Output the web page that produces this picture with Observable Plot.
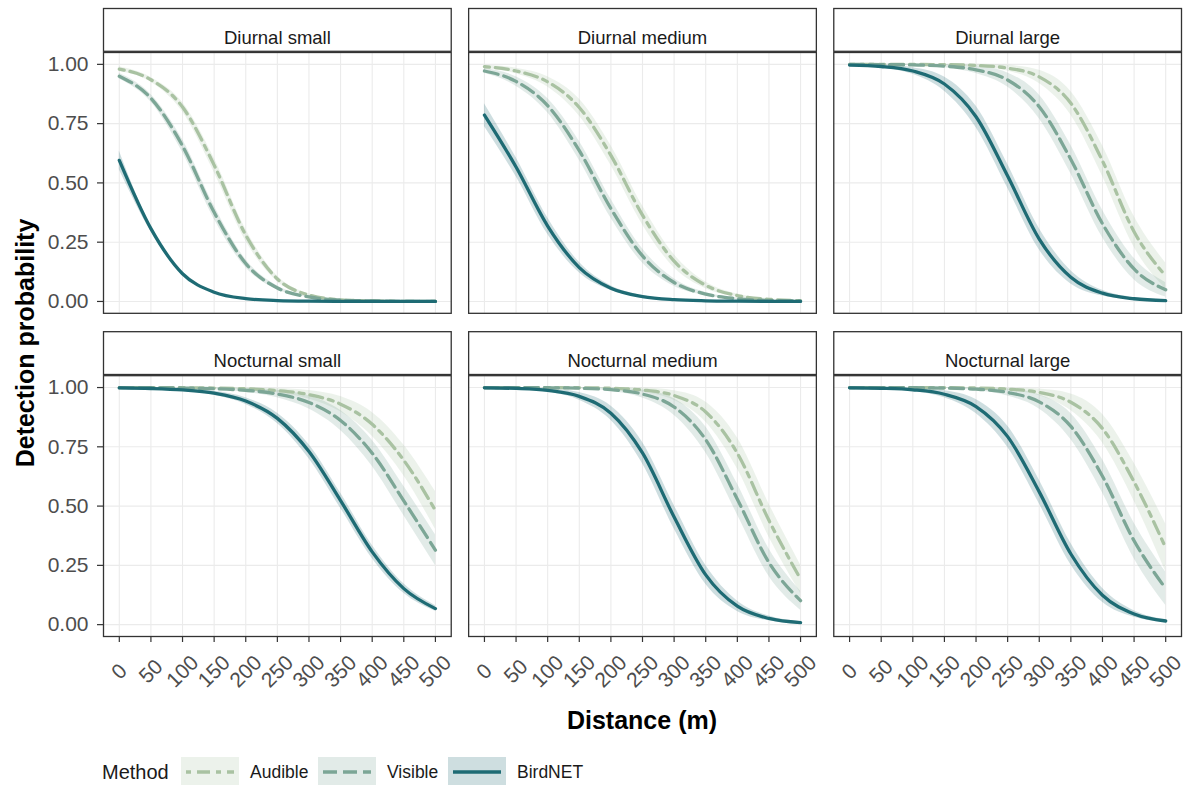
<!DOCTYPE html>
<html><head><meta charset="utf-8">
<script src="https://cdn.jsdelivr.net/npm/d3@7"></script>
<script src="https://cdn.jsdelivr.net/npm/@observablehq/plot@0.6"></script>
<style>
html,body{margin:0;padding:0;background:#fff;overflow:hidden;}
#wrap{position:relative;width:1190px;height:785px;font-family:"Liberation Sans",Arial,sans-serif;}
#legend{position:absolute;left:0;top:745px;}
</style></head><body><div id="wrap"><div id="chart"></div><svg id="legend" width="1190" height="40"></svg></div>
<script>
// ---- categories & ticks ----
const times = ["Diurnal", "Nocturnal"];
const sizes = ["small", "medium", "large"];
const methods = ["Audible", "Visible", "BirdNET"];
const distance = [0, 50, 100, 150, 200, 250, 300, 350, 400, 450, 500];
const distanceTicks = [0, 50, 100, 150, 200, 250, 300, 350, 400, 450, 500];
const probTicks = [0, 0.25, 0.5, 0.75, 1];
const lineColors = ["#a9c2a2", "#7ca696", "#1e6b74"];
const dashes = ["5 6 13 6", "14 6", null];

// ---- Diurnal small ----
const dsAud   = [0.98, 0.935, 0.82, 0.575, 0.28, 0.095, 0.027, 0.007, 0.002, 0.0005, 0.0001];
const dsAudLo = [0.97, 0.925, 0.80, 0.545, 0.255, 0.083, 0.022, 0.005, 0.001, 0.0003, 0.0001];
const dsAudHi = [0.99, 0.945, 0.84, 0.605, 0.305, 0.107, 0.032, 0.009, 0.003, 0.0008, 0.0002];
const dsVis   = [0.95, 0.857, 0.656, 0.376, 0.16, 0.057, 0.019, 0.006, 0.002, 0.0006, 0.0002];
const dsVisLo = [0.938, 0.841, 0.629, 0.348, 0.143, 0.049, 0.016, 0.005, 0.0015, 0.0004, 0.0001];
const dsVisHi = [0.962, 0.873, 0.683, 0.404, 0.177, 0.065, 0.022, 0.007, 0.0025, 0.0008, 0.0003];
const dsBird   = [0.595, 0.307, 0.117, 0.039, 0.012, 0.0036, 0.001, 0.0003, 0.0001, 0, 0];
const dsBirdLo = [0.555, 0.295, 0.111, 0.036, 0.011, 0.003, 0.0008, 0.0002, 0.0001, 0, 0];
const dsBirdHi = [0.635, 0.319, 0.123, 0.042, 0.013, 0.0042, 0.0012, 0.0004, 0.0001, 0, 0];

// ---- Diurnal medium ----
const dmAud   = [0.990, 0.972, 0.926, 0.818, 0.616, 0.364, 0.170, 0.068, 0.025, 0.0092, 0.0033];
const dmAudLo = [0.984, 0.960, 0.904, 0.782, 0.574, 0.324, 0.142, 0.054, 0.019, 0.0067, 0.0023];
const dmAudHi = [0.996, 0.984, 0.948, 0.854, 0.658, 0.404, 0.198, 0.082, 0.031, 0.0117, 0.0043];
const dmVis   = [0.972, 0.928, 0.826, 0.636, 0.392, 0.192, 0.080, 0.031, 0.0117, 0.0043, 0.0016];
const dmVisLo = [0.962, 0.908, 0.796, 0.596, 0.352, 0.162, 0.064, 0.024, 0.0087, 0.0033, 0.0011];
const dmVisHi = [0.982, 0.948, 0.856, 0.676, 0.432, 0.222, 0.096, 0.038, 0.0147, 0.0053, 0.0021];
const dmBird   = [0.786, 0.567, 0.318, 0.143, 0.056, 0.0208, 0.0075, 0.0027, 0.001, 0.0003, 0.0001];
const dmBirdLo = [0.738, 0.527, 0.283, 0.121, 0.046, 0.017, 0.0055, 0.002, 0.0007, 0.0002, 0.0001];
const dmBirdHi = [0.834, 0.607, 0.353, 0.165, 0.066, 0.025, 0.0095, 0.0035, 0.0013, 0.0004, 0.0001];

// ---- Diurnal large ----
const dlAud   = [1.0, 0.9999, 0.9996, 0.9987, 0.9954, 0.984, 0.947, 0.836, 0.593, 0.294, 0.107];
const dlAudLo = [0.9999, 0.9998, 0.9986, 0.9967, 0.9894, 0.972, 0.919, 0.786, 0.528, 0.229, 0.052];
const dlAudHi = [1.0, 1.0, 1.0, 1.0, 1.0, 0.996, 0.975, 0.886, 0.658, 0.359, 0.162];
const dlVis   = [0.9997, 0.9992, 0.9975, 0.9925, 0.977, 0.934, 0.821, 0.599, 0.328, 0.137, 0.049];
const dlVisLo = [0.9994, 0.998, 0.9945, 0.9855, 0.961, 0.904, 0.771, 0.539, 0.270, 0.092, 0.019];
const dlVisHi = [1.0, 1.0, 1.0, 0.9995, 0.993, 0.964, 0.871, 0.659, 0.386, 0.182, 0.079];
const dlBird   = [0.997, 0.991, 0.972, 0.917, 0.779, 0.529, 0.263, 0.102, 0.0349, 0.0114, 0.0037];
const dlBirdLo = [0.995, 0.985, 0.958, 0.887, 0.734, 0.479, 0.218, 0.074, 0.023, 0.0064, 0.0017];
const dlBirdHi = [0.999, 0.997, 0.986, 0.947, 0.824, 0.579, 0.308, 0.130, 0.047, 0.0164, 0.0057];

// ---- Nocturnal small ----
const nsAud   = [0.9999, 0.9996, 0.9991, 0.9978, 0.9947, 0.9873, 0.970, 0.930, 0.845, 0.693, 0.482];
const nsAudLo = [0.9998, 0.9993, 0.9984, 0.9963, 0.9907, 0.9783, 0.952, 0.898, 0.795, 0.628, 0.402];
const nsAudHi = [1.0, 0.9999, 0.9998, 0.9993, 0.9987, 0.9963, 0.988, 0.962, 0.895, 0.758, 0.562];
const nsVis   = [0.9996, 0.9991, 0.9979, 0.9951, 0.9883, 0.9726, 0.937, 0.861, 0.723, 0.522, 0.314];
const nsVisLo = [0.9993, 0.9985, 0.9964, 0.9911, 0.9803, 0.9566, 0.909, 0.819, 0.668, 0.460, 0.249];
const nsVisHi = [0.9999, 0.9997, 0.9994, 0.9991, 0.9963, 0.9886, 0.965, 0.903, 0.778, 0.584, 0.379];
const nsBird   = [0.9984, 0.996, 0.990, 0.976, 0.943, 0.870, 0.730, 0.523, 0.307, 0.152, 0.0676];
const nsBirdLo = [0.997, 0.994, 0.986, 0.968, 0.929, 0.848, 0.700, 0.491, 0.279, 0.132, 0.056];
const nsBirdHi = [0.9995, 0.998, 0.994, 0.984, 0.957, 0.892, 0.760, 0.555, 0.335, 0.172, 0.080];

// ---- Nocturnal medium ----
const nmAud   = [1.0, 0.9999, 0.9997, 0.9991, 0.9969, 0.9896, 0.9665, 0.897, 0.723, 0.440, 0.192];
const nmAudLo = [0.9999, 0.9998, 0.9994, 0.9981, 0.9939, 0.9816, 0.9465, 0.855, 0.658, 0.370, 0.132];
const nmAudHi = [1.0, 1.0, 1.0, 1.0, 0.9999, 0.9976, 0.9865, 0.939, 0.788, 0.510, 0.252];
const nmVis   = [0.9999, 0.9997, 0.9991, 0.9972, 0.9911, 0.9725, 0.918, 0.780, 0.529, 0.262, 0.101];
const nmVisLo = [0.9998, 0.9994, 0.9981, 0.9947, 0.9841, 0.9555, 0.883, 0.725, 0.464, 0.204, 0.061];
const nmVisHi = [1.0, 1.0, 1.0, 0.9997, 0.9981, 0.9895, 0.953, 0.835, 0.594, 0.320, 0.141];
const nmBird   = [0.9988, 0.9961, 0.9878, 0.9627, 0.892, 0.724, 0.454, 0.210, 0.0778, 0.0261, 0.0085];
const nmBirdLo = [0.9978, 0.9931, 0.9808, 0.9467, 0.862, 0.679, 0.404, 0.170, 0.0558, 0.0161, 0.0045];
const nmBirdHi = [0.9995, 0.9986, 0.9948, 0.9787, 0.922, 0.769, 0.504, 0.250, 0.0998, 0.0361, 0.0125];

// ---- Nocturnal large ----
const nlAud   = [1.0, 0.9999, 0.9998, 0.9993, 0.9979, 0.9934, 0.9794, 0.938, 0.827, 0.602, 0.324];
const nlAudLo = [0.9999, 0.9998, 0.9996, 0.9986, 0.9959, 0.9884, 0.9654, 0.903, 0.767, 0.522, 0.224];
const nlAudHi = [1.0, 1.0, 1.0, 1.0, 0.9999, 0.9984, 0.9934, 0.973, 0.887, 0.682, 0.424];
const nlVis   = [0.9999, 0.9998, 0.9993, 0.9977, 0.9931, 0.9793, 0.9395, 0.836, 0.626, 0.354, 0.152];
const nlVisLo = [0.9998, 0.9996, 0.9985, 0.9957, 0.9871, 0.9643, 0.9095, 0.781, 0.556, 0.279, 0.082];
const nlVisHi = [1.0, 1.0, 1.0, 0.9997, 0.9991, 0.9943, 0.9695, 0.891, 0.696, 0.429, 0.222];
const nlBird   = [0.9989, 0.9968, 0.9905, 0.9718, 0.920, 0.793, 0.560, 0.298, 0.124, 0.045, 0.0154];
const nlBirdLo = [0.9979, 0.9938, 0.9835, 0.9568, 0.890, 0.748, 0.510, 0.253, 0.094, 0.031, 0.0094];
const nlBirdHi = [0.9997, 0.9992, 0.9975, 0.9868, 0.950, 0.838, 0.610, 0.343, 0.154, 0.059, 0.0214];

// ---- build table ----
const series = [
  ["Diurnal","small","Audible",dsAud,dsAudLo,dsAudHi],
  ["Diurnal","small","Visible",dsVis,dsVisLo,dsVisHi],
  ["Diurnal","small","BirdNET",dsBird,dsBirdLo,dsBirdHi],
  ["Diurnal","medium","Audible",dmAud,dmAudLo,dmAudHi],
  ["Diurnal","medium","Visible",dmVis,dmVisLo,dmVisHi],
  ["Diurnal","medium","BirdNET",dmBird,dmBirdLo,dmBirdHi],
  ["Diurnal","large","Audible",dlAud,dlAudLo,dlAudHi],
  ["Diurnal","large","Visible",dlVis,dlVisLo,dlVisHi],
  ["Diurnal","large","BirdNET",dlBird,dlBirdLo,dlBirdHi],
  ["Nocturnal","small","Audible",nsAud,nsAudLo,nsAudHi],
  ["Nocturnal","small","Visible",nsVis,nsVisLo,nsVisHi],
  ["Nocturnal","small","BirdNET",nsBird,nsBirdLo,nsBirdHi],
  ["Nocturnal","medium","Audible",nmAud,nmAudLo,nmAudHi],
  ["Nocturnal","medium","Visible",nmVis,nmVisLo,nmVisHi],
  ["Nocturnal","medium","BirdNET",nmBird,nmBirdLo,nmBirdHi],
  ["Nocturnal","large","Audible",nlAud,nlAudLo,nlAudHi],
  ["Nocturnal","large","Visible",nlVis,nlVisLo,nlVisHi],
  ["Nocturnal","large","BirdNET",nlBird,nlBirdLo,nlBirdHi]
];
const rows = [];
for (const [tod, size, method, mean, lo, hi] of series) {
  distance.forEach((d, i) => rows.push({tod, size, method, d, p: mean[i], lo: lo[i], hi: hi[i]}));
}
const panels = [];
for (const t of times) for (const s of sizes) panels.push({tod: t, size: s, label: t + " " + s});

// ---- layout ----
const W = 1190, H = 745, mT = 52, mB = 109, mL = 103, mR = 9;
const padX = 0.0477, padY = 0.193;
const bandH = (H - mT - mB) / (2 - padY) * (1 - padY);
const font = '"Liberation Sans", Arial, sans-serif';

const chart = Plot.plot({
  width: W, height: H,
  marginTop: mT, marginBottom: mB, marginLeft: mL, marginRight: mR,
  style: {fontFamily: font, fontSize: "21px", background: "#fff", color: "#4d4d4d"},
  x: {domain: [-25, 525]},
  y: {domain: [-0.05, 1.05]},
  fx: {domain: sizes, paddingInner: padX, paddingOuter: 0, round: false, axis: null},
  fy: {domain: times, paddingInner: padY, paddingOuter: 0, round: false, axis: null},
  color: {domain: methods, range: lineColors},
  marks: [
    Plot.gridX({ticks: distanceTicks, stroke: "#ebebeb", strokeOpacity: 1, strokeWidth: 1.1}),
    Plot.gridY({ticks: probTicks, stroke: "#ebebeb", strokeOpacity: 1, strokeWidth: 1.1}),
    Plot.areaY(rows, {x: "d", y1: "lo", y2: "hi", fill: "method", z: "method", fillOpacity: 0.22,
      fx: "size", fy: "tod", curve: "monotone-x"}),
    ...methods.map((m, k) => Plot.lineY(rows.filter(r => r.method === m), {
      x: "d", y: "p", z: "tod", stroke: "method", strokeWidth: 3.3, strokeDasharray: dashes[k],
      fx: "size", fy: "tod", curve: "monotone-x"})),
    Plot.frame({stroke: "#333", strokeWidth: 1.3}),
    Plot.frame({fill: "#fff", stroke: "#333", strokeWidth: 1.3, insetTop: -44, insetBottom: bandH + 1.2}),
    Plot.text(panels, {fx: "size", fy: "tod", text: "label", frameAnchor: "top", dy: -22,
      fontSize: 18.5, fill: "#1a1a1a"}),
    Plot.axisY({ticks: probTicks, tickFormat: d3.format(".2f"), tickSize: 6, tickPadding: 9,
      fontSize: 21, fill: "#4d4d4d", stroke: "#333", strokeWidth: 1.2, label: null}),
    Plot.axisX({ticks: distanceTicks, tickSize: 6, tickPadding: 29, tickRotate: -45,
      textAnchor: "middle", lineAnchor: "middle", fontSize: 21, fill: "#4d4d4d",
      stroke: "#333", strokeWidth: 1.2, label: null})
  ]
});
document.getElementById("chart").appendChild(chart);
const svg = d3.select(chart.tagName.toLowerCase() === "svg" ? chart : chart.querySelector("svg"));
svg.append("text").text("Detection probability")
  .attr("transform", "translate(25,343) rotate(-90)")
  .attr("text-anchor", "middle").attr("dominant-baseline", "central")
  .attr("font-family", font).attr("font-size", 25).attr("font-weight", "bold").attr("fill", "#000");
svg.append("text").text("Distance (m)")
  .attr("x", 642).attr("y", 720)
  .attr("text-anchor", "middle").attr("dominant-baseline", "central")
  .attr("font-family", font).attr("font-size", 25).attr("font-weight", "bold").attr("fill", "#000");

// ---- legend ----
const lg = d3.select("#legend");
lg.append("text").text("Method").attr("x", 102).attr("y", 27)
  .attr("dominant-baseline", "central").attr("font-family", font).attr("font-size", 20).attr("fill", "#1a1a1a");
const keyX = [181, 318, 448];
methods.forEach((m, k) => {
  const x = keyX[k];
  lg.append("rect").attr("x", x).attr("y", 12).attr("width", 58).attr("height", 32)
    .attr("fill", lineColors[k]).attr("fill-opacity", 0.22);
  const ln = lg.append("line").attr("x1", x + 5).attr("x2", x + 53).attr("y1", 27).attr("y2", 27)
    .attr("stroke", lineColors[k]).attr("stroke-width", 3.3);
  if (dashes[k]) ln.attr("stroke-dasharray", dashes[k]);
  lg.append("text").text(m).attr("x", x + 69).attr("y", 27)
    .attr("dominant-baseline", "central").attr("font-family", font).attr("font-size", 17.5).attr("fill", "#1a1a1a");
});
</script></body></html>
